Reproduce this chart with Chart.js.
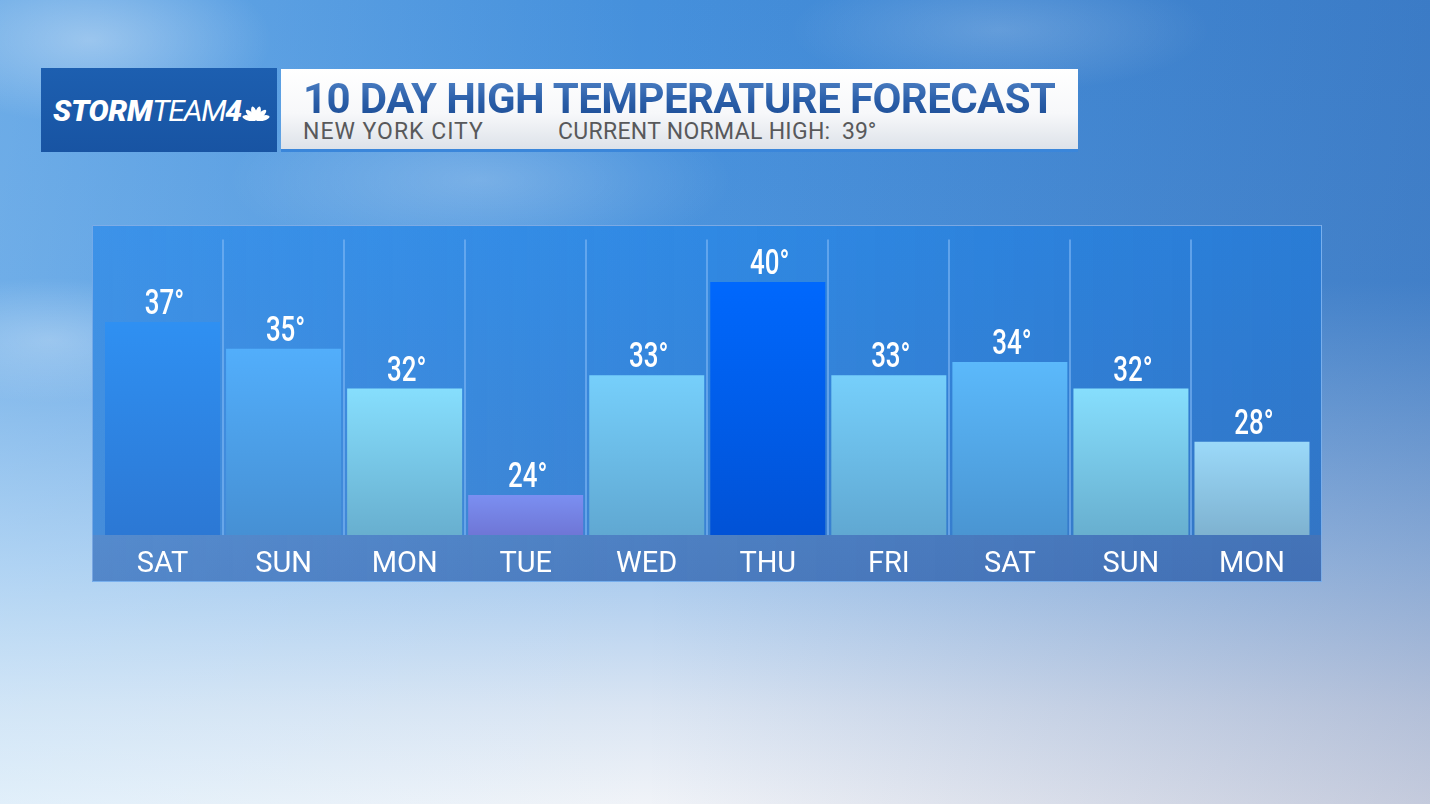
<!DOCTYPE html>
<html>
<head>
<meta charset="utf-8">
<script src="https://cdn.jsdelivr.net/npm/chart.js@4.4.1/dist/chart.umd.min.js"></script>
<style>
  html, body { margin: 0; padding: 0; width: 1430px; height: 804px; overflow: hidden; }
  body {
    position: relative;
    font-family: Roboto, "Noto Sans", sans-serif;
    background:
      radial-gradient(ellipse 260px 120px at 90px 40px, rgba(255,255,255,0.35), rgba(255,255,255,0) 70%),
      radial-gradient(ellipse 360px 120px at 480px 180px, rgba(255,255,255,0.22), rgba(255,255,255,0) 70%),
      radial-gradient(ellipse 300px 90px at 1000px 30px, rgba(255,255,255,0.18), rgba(255,255,255,0) 70%),
      radial-gradient(ellipse 220px 90px at 50px 340px, rgba(255,255,255,0.25), rgba(255,255,255,0) 70%),
      linear-gradient(to right, rgba(190,230,255,0.30) 0%, rgba(255,255,255,0) 45%, rgba(20,40,110,0.20) 100%),
      linear-gradient(to bottom, #4590dc 0%, #4d95de 35%, #a8caee 70%, #dae5f3 88%, #f0f3f8 100%);
  }
  #logo {
    position: absolute; left: 41px; top: 68px; width: 236px; height: 84px;
    background: linear-gradient(#1d5fb0, #1854a3);
  }
  #logo .txt {
    position: absolute; left: 12px; top: 28px;
    font-size: 30px; line-height: 30px; font-style: italic; color: #fff; white-space: nowrap;
  }
  #logo .storm { font-weight: 900; letter-spacing: -0.3px; }
  #logo .team { font-weight: 400; letter-spacing: -1.3px; }
  #logo .four { font-weight: 900; }
  #logo svg { position: absolute; left: 201px; top: 31px; }
  #titlebox {
    position: absolute; left: 281px; top: 69px; width: 797px; height: 80px;
    background: linear-gradient(to bottom, #ffffff 0%, #f7f8fa 55%, #dde2e9 100%);
    border-bottom: 3px solid #3a86da;
  }
  #title {
    position: absolute; left: 303px; top: 78px;
    font-size: 42px; line-height: 42px; font-weight: 700; letter-spacing: -0.6px; white-space: nowrap;
    background: linear-gradient(to bottom, #4d80c4 0%, #2a5ea8 55%, #1c4c94 100%);
    -webkit-background-clip: text; background-clip: text; color: transparent;
  }
  .sub {
    position: absolute; top: 120px; font-size: 23px; line-height: 23px; color: #58595b; white-space: nowrap;
  }
  #panel {
    position: absolute; left: 92px; top: 225px; width: 1230px; height: 357px; box-sizing: border-box;
    border: 1px solid rgba(140,185,240,0.75);
    background:
      linear-gradient(to right, rgba(120,190,255,0.18) 0%, rgba(0,0,0,0) 50%, rgba(0,30,110,0.12) 100%),
      linear-gradient(to bottom, #2f89e4 0px, #3a82d2 309px, #4d7fc2 309px, #4b7bbe 100%);
  }
  #panel .wrap { position: absolute; left: 0; top: 0; width: 1228px; height: 355px; }
</style>
</head>
<body>
<div id="logo">
  <div class="txt"><span class="storm">STORM</span><span class="team">TEAM</span><span class="four">4</span></div>
  <svg width="28" height="22" viewBox="0 0 28 22">
    <g fill="#fff" transform="translate(14,21)">
      <ellipse cx="0" cy="-7" rx="2.6" ry="7" transform="rotate(-75)"/>
      <ellipse cx="0" cy="-7" rx="2.6" ry="7" transform="rotate(-45)"/>
      <ellipse cx="0" cy="-7" rx="2.6" ry="7" transform="rotate(-15)"/>
      <ellipse cx="0" cy="-7" rx="2.6" ry="7" transform="rotate(15)"/>
      <ellipse cx="0" cy="-7" rx="2.6" ry="7" transform="rotate(45)"/>
      <ellipse cx="0" cy="-7" rx="2.6" ry="7" transform="rotate(75)"/>
    </g>
  </svg>
</div>
<div id="titlebox"></div>
<div id="title">10 DAY HIGH TEMPERATURE FORECAST</div>
<div class="sub" style="left:303px;letter-spacing:1px">NEW YORK CITY</div>
<div class="sub" style="left:558px;letter-spacing:0.3px">CURRENT NORMAL HIGH:</div>
<div class="sub" style="left:842px">39°</div>

<div id="panel"><div class="wrap"><canvas id="chart-bar"></canvas></div></div>

<script>
const days = ['SAT', 'SUN', 'MON', 'TUE', 'WED', 'THU', 'FRI', 'SAT', 'SUN', 'MON'];
const highs = [37, 35, 32, 24, 33, 40, 33, 34, 32, 28];
const yMin = 21;
const yMax = 43.2;

// bar colours, top and bottom of each bar's gradient
const barTop = ['#2f90f2', '#52aefb', '#86defd', '#7b8ff1', '#76cffb', '#0068fd', '#76cffb', '#5bb9fb', '#86defd', '#9bd9f9'];
const barBottom = ['#2c78d4', '#4690d4', '#68afcf', '#6f76d6', '#60a8d2', '#0152d6', '#60a8d2', '#4a95d2', '#68afcf', '#7eb2d0'];

function barFill(c) {
  const chart = c.chart;
  const area = chart.chartArea;
  const i = c.dataIndex;
  if (!area || i === undefined || !chart.scales.y) return barTop[i || 0];
  const top = chart.scales.y.getPixelForValue(highs[i]);
  const g = chart.ctx.createLinearGradient(0, top, 0, area.bottom);
  g.addColorStop(0, barTop[i]);
  g.addColorStop(1, barBottom[i]);
  return g;
}

// temperature above each bar, in a narrow face like the TV graphic
const valueLabels = {
  id: 'valueLabels',
  afterDatasetsDraw(chart) {
    const ctx = chart.ctx;
    const meta = chart.getDatasetMeta(0);
    ctx.save();
    ctx.font = '500 35px Roboto, sans-serif';
    ctx.fillStyle = '#ffffff';
    ctx.textAlign = 'center';
    ctx.textBaseline = 'alphabetic';
    meta.data.forEach((bar, i) => {
      ctx.save();
      ctx.translate(bar.x + 2, bar.y - 8);
      ctx.scale(0.74, 1);
      ctx.fillText(highs[i] + '°', 0, 0);
      ctx.restore();
    });
    ctx.restore();
  }
};

new Chart(document.getElementById('chart-bar'), {
  type: 'bar',
  data: {
    labels: days,
    datasets: [{
      data: highs,
      base: yMin,
      backgroundColor: barFill,
      borderWidth: 0,
      barPercentage: 0.95,
      categoryPercentage: 1
    }]
  },
  options: {
    responsive: true,
    maintainAspectRatio: false,
    animation: false,
    events: [],
    layout: { padding: { left: 9, right: 8.5, top: 13.5, bottom: 0 } },
    plugins: { legend: { display: false }, tooltip: { enabled: false } },
    scales: {
      x: {
        grid: {
          offset: true,
          drawTicks: false,
          lineWidth: 2,
          color: c => (c.index === undefined || c.index === 0) ? 'rgba(0,0,0,0)' : 'rgba(130,185,245,0.6)'
        },
        border: { display: false },
        ticks: {
          color: '#ffffff',
          font: { family: 'Roboto', size: 29, weight: 400 },
          padding: 12,
          maxRotation: 0,
          autoSkip: false
        },
        afterFit(s) { s.height = 46; }
      },
      y: {
        display: false,
        min: yMin,
        max: yMax
      }
    }
  },
  plugins: [valueLabels]
});
</script>
</body>
</html>
